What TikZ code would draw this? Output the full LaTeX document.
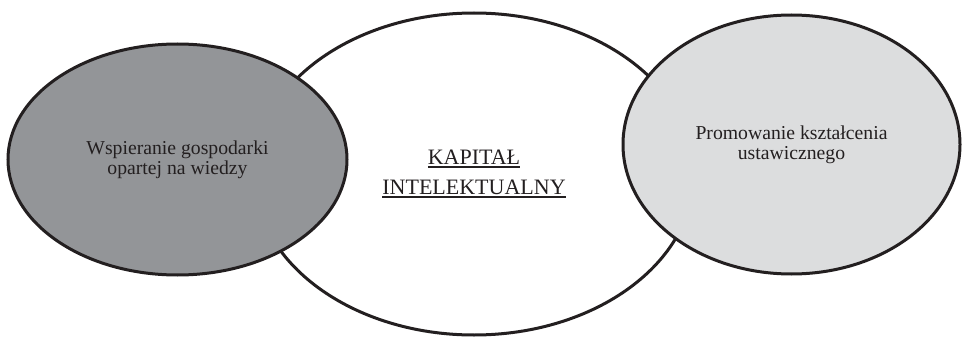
\documentclass[tikz,border=0pt]{standalone}
\usepackage{fontspec}
\setmainfont{Liberation Serif}
\usetikzlibrary{shapes.geometric}
\definecolor{edgecol}{HTML}{231F20}
\definecolor{darkfill}{HTML}{939598}
\definecolor{lightfill}{HTML}{DCDDDE}
\newcommand\ulbox[1]{\vtop{\hbox{#1}\kern1.5pt\hrule height 2pt}}
\begin{document}
\begin{tikzpicture}[x=1pt,y=-1pt,
  bubble/.style={ellipse, draw=edgecol, line width=3pt, inner sep=0pt, align=center,
    font=\fontsize{19.7}{20}\selectfont, text=edgecol}]
\useasboundingbox (0,0) rectangle (967,337);
\node[bubble, fill=white, minimum width=440pt, minimum height=322pt,
  font=\fontsize{22}{21}\selectfont] (center) at (474,174)
  {\ulbox{KAPITAŁ}\\[9pt]\ulbox{INTELEKTUALNY}};
\node[bubble, fill=darkfill, minimum width=339pt, minimum height=231pt] (left) at (177.5,159.5)
  {Wspieranie gospodarki\\opartej na wiedzy};
\node[bubble, fill=lightfill, minimum width=337pt, minimum height=259pt] (right) at (791.5,144.5)
  {Promowanie kształcenia\\ustawicznego};
\end{tikzpicture}
\end{document}
